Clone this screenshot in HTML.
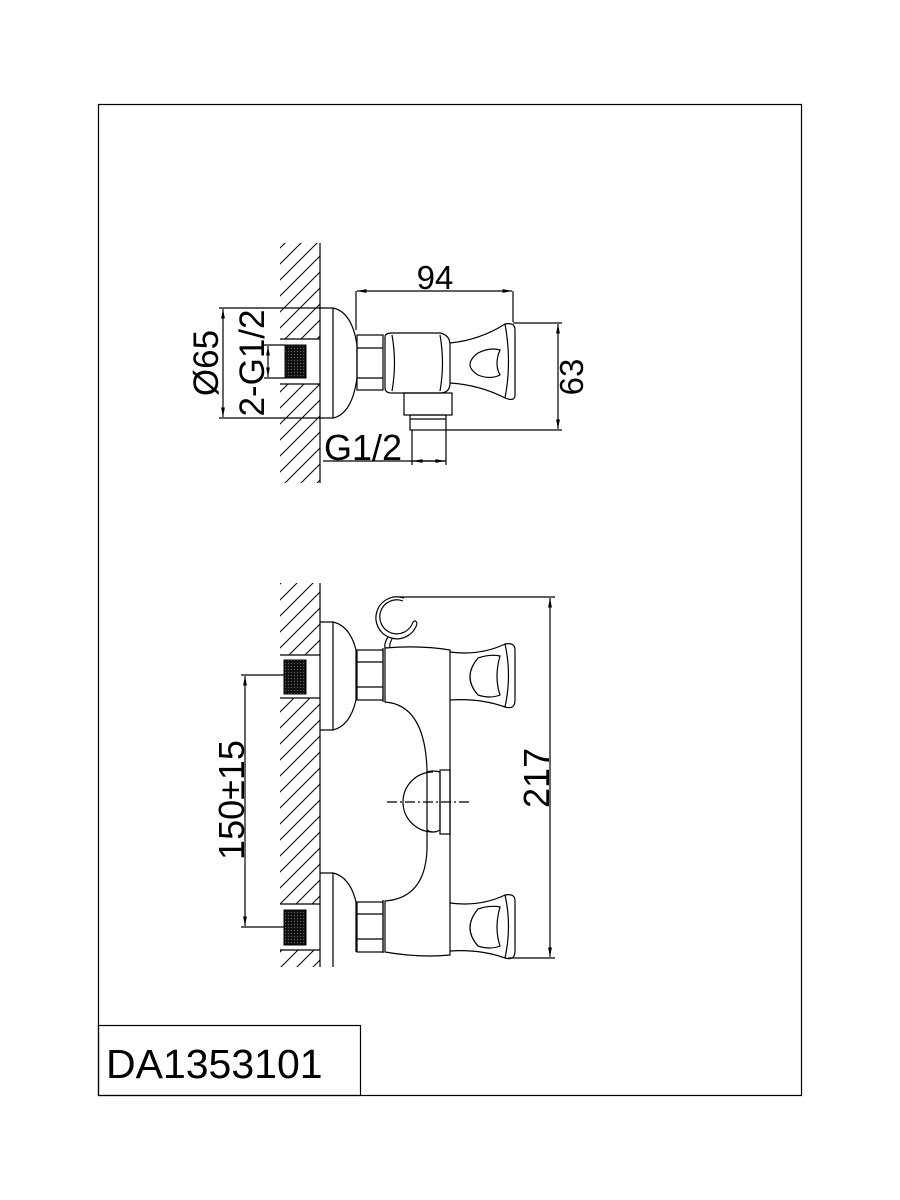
<!DOCTYPE html>
<html><head><meta charset="utf-8"><style>
html,body{margin:0;padding:0;background:#fff}
svg{display:block}
text{font-family:"Liberation Sans",Arial,sans-serif;fill:#000}
</style></head><body>
<svg width="900" height="1200" viewBox="0 0 900 1200" xmlns="http://www.w3.org/2000/svg">
<defs>
<pattern id="h" width="16" height="16" patternUnits="userSpaceOnUse">
<line x1="0" y1="16" x2="16" y2="0" stroke="#000" stroke-width="1"/>
<line x1="-4" y1="4" x2="4" y2="-4" stroke="#000" stroke-width="1"/>
<line x1="12" y1="20" x2="20" y2="12" stroke="#000" stroke-width="1"/>
</pattern>
<pattern id="g" width="3" height="3" patternUnits="userSpaceOnUse">
<rect width="3" height="3" fill="#111"/><rect width="1" height="1" fill="#666"/>
</pattern>
<marker id="a" viewBox="0 0 10 10" refX="10" refY="5" markerWidth="8" markerHeight="8" orient="auto-start-reverse"><path d="M0,3 L10,5 L0,7 z" fill="#000"/></marker>
</defs>
<g fill="none" stroke="#000" stroke-width="1.2">
<rect x="98.5" y="104.5" width="703" height="991"/>
<rect x="98.5" y="1025.5" width="262" height="70"/>
</g>
<text x="106" y="1078" font-size="41">DA1353101</text>

<!-- TOP VIEW -->
<rect x="280" y="243" width="40" height="96" fill="url(#h)"/>
<rect x="280" y="384" width="40" height="99" fill="url(#h)"/>
<g fill="none" stroke="#000" stroke-width="1.2">
<line x1="320" y1="243" x2="320" y2="483"/>
<line x1="280" y1="339" x2="320" y2="339"/><line x1="280" y1="384" x2="320" y2="384"/>
<path d="M320 308 H333 Q352 312 357 345 V378 Q352 414 333 418 H320"/>
<line x1="333" y1="308" x2="333" y2="418"/>
<rect x="357" y="335" width="26" height="55"/>
<line x1="357" y1="348" x2="383" y2="348"/><line x1="357" y1="378" x2="383" y2="378"/>
<path d="M385 337 Q385 333 392 333 H440 Q450 335 450 345 V383 Q450 393 440 393 H392 Q385 393 385 388 Z"/>
<path d="M392 335 Q397 363 392 391"/><path d="M440 335 Q445 363 440 391"/>
<path d="M450 343 Q480 340 505 324 Q515 322 515 330 V395 Q515 402 505 398 Q480 385 450 383"/>
<path d="M505 324 Q512 362 505 398"/>
<path d="M478 353 Q462 365 478 375 Q490 380 500 375 Q494 364 500 350 Q490 347 478 353Z"/>
<rect x="404" y="393" width="48" height="22"/>
<rect x="410" y="415" width="36" height="15"/>
<line x1="410" y1="419" x2="446" y2="419"/>
<!-- dims -->
<line x1="356" y1="291" x2="356" y2="330"/>
<line x1="513" y1="291" x2="513" y2="322"/>
<line x1="357" y1="291" x2="512" y2="291" marker-start="url(#a)" marker-end="url(#a)"/>
<line x1="513" y1="323" x2="562" y2="323"/><line x1="446" y1="430" x2="562" y2="430"/>
<line x1="558" y1="324" x2="558" y2="429" marker-start="url(#a)" marker-end="url(#a)"/>
<line x1="219" y1="308" x2="320" y2="308"/><line x1="219" y1="418" x2="320" y2="418"/>
<line x1="223" y1="309" x2="223" y2="417" marker-start="url(#a)" marker-end="url(#a)"/>
<line x1="264" y1="345" x2="285" y2="345"/><line x1="264" y1="378" x2="285" y2="378"/>
<line x1="268" y1="346" x2="268" y2="377" marker-start="url(#a)" marker-end="url(#a)"/>
<line x1="323" y1="461" x2="446" y2="461"/>
<line x1="412" y1="430" x2="412" y2="465"/><line x1="446" y1="430" x2="446" y2="465"/>
<line x1="413" y1="461" x2="445" y2="461" marker-start="url(#a)" marker-end="url(#a)"/>
</g>
<rect x="285" y="345" width="21" height="33" fill="url(#g)" stroke="#000"/>
<text x="435" y="289" font-size="33" text-anchor="middle">94</text>
<text transform="translate(583,377) rotate(-90)" font-size="33" text-anchor="middle">63</text>
<text transform="translate(218,363) rotate(-90)" font-size="35" text-anchor="middle">Ø65</text>
<text transform="translate(264,363) rotate(-90)" font-size="35" text-anchor="middle">2-G1/2</text>
<text x="324" y="460" font-size="36">G1/2</text>

<!-- BOTTOM VIEW -->
<rect x="280" y="583" width="40" height="72" fill="url(#h)"/>
<rect x="280" y="698" width="40" height="206" fill="url(#h)"/>
<rect x="280" y="950" width="40" height="17" fill="url(#h)"/>
<g fill="none" stroke="#000" stroke-width="1.2">
<line x1="320" y1="583" x2="320" y2="967"/>
<line x1="280" y1="655" x2="320" y2="655"/><line x1="280" y1="698" x2="320" y2="698"/>
<line x1="280" y1="904" x2="320" y2="904"/><line x1="280" y1="950" x2="320" y2="950"/>
<path d="M320 622 H333 Q350 626 356 650 V700 Q350 726 333 730 H320"/>
<line x1="333" y1="622" x2="333" y2="730"/>
<path d="M320 873 H333 Q350 877 356 902 V952"/>
<line x1="333" y1="873" x2="333" y2="967"/>
<rect x="357" y="650" width="26" height="50"/>
<line x1="357" y1="662" x2="383" y2="662"/><line x1="357" y1="687" x2="383" y2="687"/>
<rect x="357" y="902" width="26" height="50"/>
<line x1="357" y1="914" x2="383" y2="914"/><line x1="357" y1="939" x2="383" y2="939"/>
<!-- body -->
<path d="M385 648 Q420 645 450 650 V955 Q420 958 385 952 V901 Q425 898 427 850 V770 Q425 705 385 702 Z"/>
<line x1="383" y1="648" x2="383" y2="702"/><line x1="383" y1="900" x2="383" y2="953"/>
<rect x="440" y="770" width="10" height="64"/>
<path d="M427 772 Q433 770 440 772 V830 Q433 834 427 830"/>
<path d="M433 772 A30 30 0 0 0 433 832"/>
<line x1="387" y1="802" x2="470" y2="802" stroke-dasharray="10,3,2,3"/>
<!-- hook -->
<path d="M404 598 A21 21 0 1 0 417 624"/>
<path d="M403 601 A17 17 0 1 0 413 622"/>
<path d="M413 622 Q416 619 417 624"/>
<path d="M388 637 Q384 643 385 648"/>
<path d="M392 639 Q389 644 390 648"/>
<!-- handles -->
<path d="M450 652 Q480 656 505 644 Q515 642 515 650 V700 Q515 710 505 707 Q480 698 450 700"/>
<path d="M505 644 Q512 675 505 707"/>
<path d="M478 658 Q462 677 478 695 Q490 699 500 695 Q494 677 500 656 Q490 654 478 658Z"/>
<path d="M450 903 Q480 907 505 895 Q515 893 515 901 V951 Q515 961 505 958 Q480 949 450 951"/>
<path d="M505 895 Q512 926 505 958"/>
<path d="M478 909 Q462 928 478 946 Q490 950 500 946 Q494 928 500 907 Q490 905 478 909Z"/>
<!-- dims -->
<line x1="400" y1="597" x2="555" y2="597"/><line x1="508" y1="958" x2="555" y2="958"/>
<line x1="550" y1="598" x2="550" y2="957" marker-start="url(#a)" marker-end="url(#a)"/>
<line x1="241" y1="675" x2="285" y2="675"/><line x1="241" y1="927" x2="285" y2="927"/>
<line x1="245" y1="676" x2="245" y2="926" marker-start="url(#a)" marker-end="url(#a)"/>
</g>
<rect x="284" y="660" width="22" height="34" fill="url(#g)" stroke="#000"/>
<rect x="284" y="910" width="22" height="35" fill="url(#g)" stroke="#000"/>
<text transform="translate(549,778) rotate(-90)" font-size="36" text-anchor="middle">217</text>
<text transform="translate(244,800) rotate(-90)" font-size="36" text-anchor="middle">150±15</text>
</svg>
</body></html>
